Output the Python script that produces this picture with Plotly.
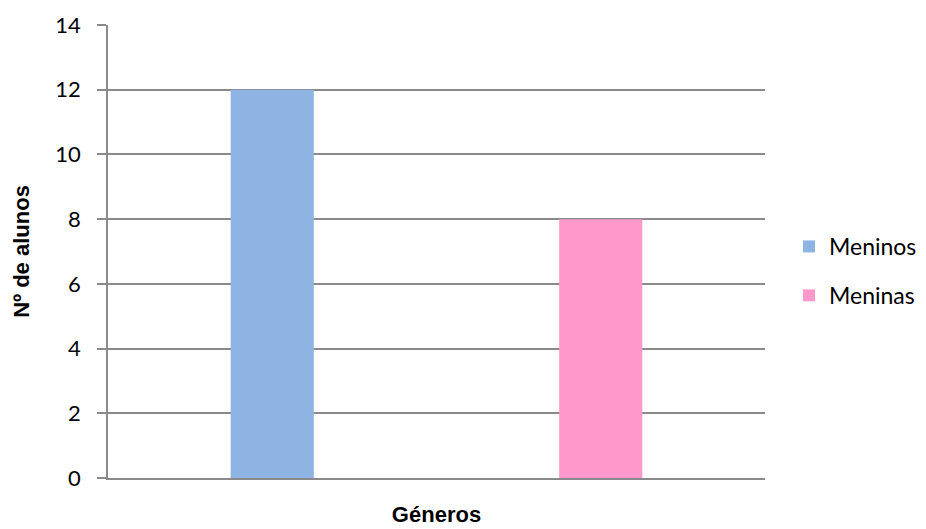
import plotly.graph_objects as go

# Número de alunos por género
series_names = ["Meninos", "Meninas"]
categories = ["Meninos", "Meninas"]
values = [12, 8]
colors = ["#8EB4E3", "#FF99CC"]
y_ticks = [0, 2, 4, 6, 8, 10, 12, 14]

FONT = "Lato"
TITLE_FONT = "Liberation Sans"
GRID = "#8A8A8A"

W, H = 926, 529
ML, MR, MT, MB = 108, 0, 25, 51
PLOT_RIGHT = 765  # right edge of the plotting area, px
paper_w = W - ML - MR
x_domain_end = (PLOT_RIGHT - ML) / paper_w

fig = go.Figure()
for name, cat, val, col in zip(series_names, categories, values, colors):
    fig.add_trace(go.Bar(
        x=[cat], y=[val], name=name, legendgroup=name,
        marker=dict(color=col, line=dict(width=0)),
        width=0.253,
    ))

fig.update_layout(
    width=W, height=H,
    margin=dict(l=ML, r=MR, t=MT, b=MB),
    paper_bgcolor="white", plot_bgcolor="white",
    barmode="overlay",
    font=dict(family=FONT, size=22, color="black"),
    showlegend=True,
    legend=dict(
        x=(789 - ML) / paper_w, y=0.457, xanchor="left", yanchor="middle",
        font=dict(family=FONT, size=23, color="black"),
        bgcolor="rgba(0,0,0,0)",
        entrywidth=80, entrywidthmode="pixels",
        tracegroupgap=16,
        traceorder="grouped",
    ),
)
fig.update_xaxes(
    type="category", categoryorder="array", categoryarray=categories,
    range=[-0.5, 1.5], domain=[0, x_domain_end],
    showticklabels=False, ticks="",
    showline=True, linecolor=GRID, linewidth=1.5,
    showgrid=False, zeroline=False,
    title=dict(text="<b>Géneros</b>", font=dict(family=TITLE_FONT, size=22), standoff=28),
)
fig.update_yaxes(
    range=[0, 14], tickvals=y_ticks,
    ticks="outside", ticklen=9, tickcolor=GRID, tickwidth=1.5,
    ticklabelstandoff=12,
    showline=True, linecolor=GRID, linewidth=1.5,
    showgrid=True, gridcolor=GRID, gridwidth=1.5,
    zeroline=False,
    tickfont=dict(family=FONT, size=22),
    title=dict(text="<b>Nº de alunos</b>", font=dict(family=TITLE_FONT, size=22), standoff=20),
)

fig.write_html("out.html")
